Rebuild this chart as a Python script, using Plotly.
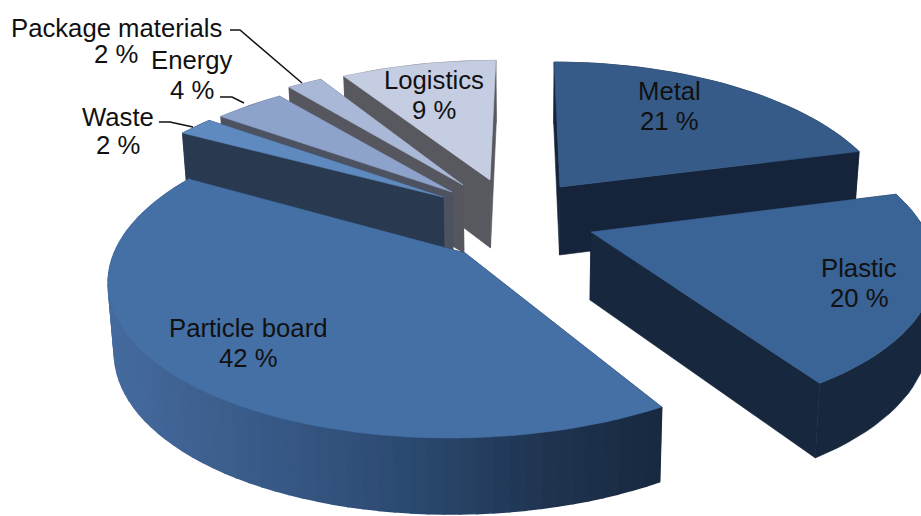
import math
import plotly.graph_objects as go

categories = ["Metal", "Plastic", "Particle board", "Waste", "Energy", "Package materials", "Logistics"]
shares = [21, 20, 42, 2, 4, 2, 9]

# styling of the exploded 3D pie
top_colors = ["#365b88", "#3a6396", "#4570a6", "#5f8abf", "#8da3cc", "#a9b8d6", "#c5cde2"]
wall_colors = ["#15243a", "#16273e", "#18293f", "#29394f", "#4d5260", "#55565e", "#58585f"]
apexes = [(560, 187), (591, 232), (465, 253), (443, 197), (452, 192), (463, 185), (490, 180)]
radii = [326, 334, 347, 335, 330, 330, 330]
tilts = [0.46, 0.452, 0.445, 0.435, 0.435, 0.435, 0.435]
rim_lift = [0, 2, 8, 0, 0, 2, 0]
angle_nudges = [(0, 0), (0, 0), (2.5, -1), (0, 0), (0, 0), (0, 0), (0, 0)]
label_pos = [(669, 91, 121), (859, 268, 298), (248, 328, 358), (118, 117, 145),
             (192, 60, 90), (116, 28, 54), (434, 80, 110)]
leaders = [[(159, 122), (170, 122), (193, 127)], [(220, 97), (232, 97), (244, 103)],
           [(230, 30), (240, 30), (302, 83)]]
draw_order = [6, 5, 4, 3, 0, 1, 2]

P = 0.20
VX = 525
DEPTH = 68
CONV = 0.015


def project(cx, cy, r, k, deg):
    t = math.radians(deg)
    X, Y = r * math.sin(t), r * math.cos(t)
    s = 1 / (1 + P * Y / r)
    return VX + (cx - VX + X) * s, cy - Y * k * s, s


def down(x, y, s):
    return x + (VX - x) * CONV, y + DEPTH * s ** 0.5


def poly(fig, pts, color, lw=0.6):
    xs = [p[0] for p in pts] + [pts[0][0]]
    ys = [p[1] for p in pts] + [pts[0][1]]
    fig.add_trace(go.Scatter(x=xs, y=ys, mode="lines", fill="toself", fillcolor=color,
                             line=dict(color=color, width=lw), hoverinfo="skip", showlegend=False))


def mix(stops, x):
    for (x0, c0), (x1, c1) in zip(stops, stops[1:]):
        if x <= x1:
            f = max(0, (x - x0) / (x1 - x0))
            return "rgb(%d,%d,%d)" % tuple(a + (b - a) * f for a, b in zip(c0, c1))
    return "rgb(%d,%d,%d)" % stops[-1][1]


particle_stops = [(100, (70, 108, 160)), (300, (54, 86, 130)), (420, (42, 72, 110)),
                  (550, (32, 52, 80)), (665, (24, 41, 63))]

starts = []
acc = 0
for v in shares:
    starts.append(acc)
    acc += v * 3.6

fig = go.Figure()
for i in draw_order:
    cx, cy = apexes[i]
    r = radii[i]
    k = tilts[i]
    a0 = starts[i] + angle_nudges[i][0]
    a1 = starts[i] + shares[i] * 3.6 + angle_nudges[i][1]
    n = max(4, int(shares[i] * 1.6))
    degs = [a0 + (a1 - a0) * j / n for j in range(n + 1)]
    rim = [project(cx, cy - rim_lift[i], r, k, d) for d in degs]
    apex_bottom = down(cx, cy, 1)
    for pt in (rim[0], rim[-1]):
        poly(fig, [(cx, cy), pt[:2], down(*pt), apex_bottom], wall_colors[i])
    if i == 2:
        for p, q in zip(rim, rim[1:]):
            poly(fig, [p[:2], q[:2], down(*q), down(*p)], mix(particle_stops, (p[0] + q[0]) / 2), lw=1.6)
    else:
        poly(fig, [p[:2] for p in rim] + [down(*p) for p in reversed(rim)], wall_colors[i])
    poly(fig, [(cx, cy)] + [p[:2] for p in rim], top_colors[i])

for pts in leaders:
    fig.add_trace(go.Scatter(x=[p[0] for p in pts], y=[p[1] for p in pts], mode="lines",
                             line=dict(color="#111111", width=1.5), hoverinfo="skip", showlegend=False))

font = dict(family="Liberation Sans", size=25.7, color="#111111")
for name, v, (x, y1, y2) in zip(categories, shares, label_pos):
    fig.add_annotation(x=x, y=y1, text=name, showarrow=False, font=font, xanchor="center", yanchor="middle")
    fig.add_annotation(x=x, y=y2, text=f"{v} %", showarrow=False, font=font, xanchor="center", yanchor="middle")

fig.update_layout(width=921, height=516, margin=dict(l=0, r=0, t=0, b=0), paper_bgcolor="white",
                  plot_bgcolor="white", showlegend=False,
                  xaxis=dict(range=[0, 921], visible=False, fixedrange=True),
                  yaxis=dict(range=[516, 0], visible=False, fixedrange=True))
fig.write_html("out.html", config={"displayModeBar": False},
               post_script="document.body.style.margin='0';document.documentElement.style.overflow='hidden';")
